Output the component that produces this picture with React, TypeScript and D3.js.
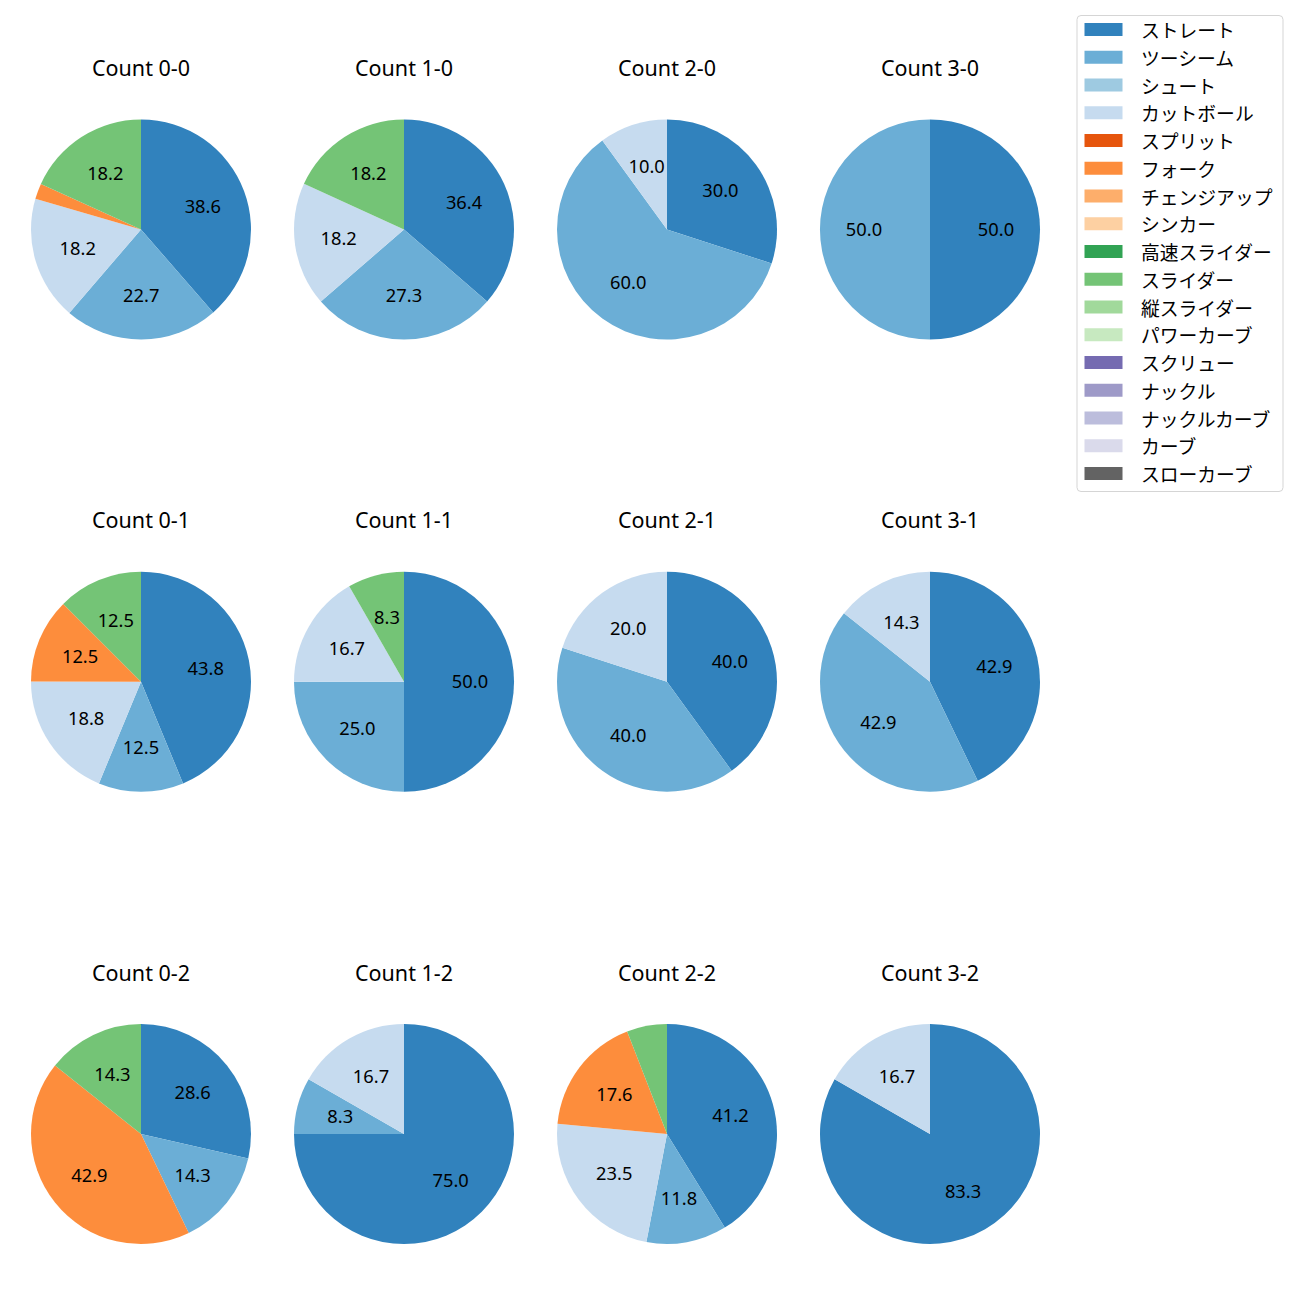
import React from "react";
import * as d3 from "d3";

const pitchTypes = [
  "ストレート", "ツーシーム", "シュート", "カットボール", "スプリット", "フォーク",
  "チェンジアップ", "シンカー", "高速スライダー", "スライダー", "縦スライダー",
  "パワーカーブ", "スクリュー", "ナックル", "ナックルカーブ", "カーブ", "スローカーブ",
];
const pitchColors = [
  "#3182bd", "#6baed6", "#9ecae1", "#c6dbef", "#e6550d", "#fd8d3c",
  "#fdae6b", "#fdd0a2", "#31a354", "#74c476", "#a1d99b",
  "#c7e9c0", "#756bb1", "#9e9ac8", "#bcbddc", "#dadaeb", "#636363",
];

type Slice = [string, number];
const count00: Slice[] = [["ストレート", 38.6], ["ツーシーム", 22.7], ["カットボール", 18.2], ["フォーク", 2.3], ["スライダー", 18.2]];
const count10: Slice[] = [["ストレート", 36.4], ["ツーシーム", 27.3], ["カットボール", 18.2], ["スライダー", 18.2]];
const count20: Slice[] = [["ストレート", 30.0], ["ツーシーム", 60.0], ["カットボール", 10.0]];
const count30: Slice[] = [["ストレート", 50.0], ["ツーシーム", 50.0]];
const count01: Slice[] = [["ストレート", 43.8], ["ツーシーム", 12.5], ["カットボール", 18.8], ["フォーク", 12.5], ["スライダー", 12.5]];
const count11: Slice[] = [["ストレート", 50.0], ["ツーシーム", 25.0], ["カットボール", 16.7], ["スライダー", 8.3]];
const count21: Slice[] = [["ストレート", 40.0], ["ツーシーム", 40.0], ["カットボール", 20.0]];
const count31: Slice[] = [["ストレート", 42.9], ["ツーシーム", 42.9], ["カットボール", 14.3]];
const count02: Slice[] = [["ストレート", 28.6], ["ツーシーム", 14.3], ["フォーク", 42.9], ["スライダー", 14.3]];
const count12: Slice[] = [["ストレート", 75.0], ["ツーシーム", 8.3], ["カットボール", 16.7]];
const count22: Slice[] = [["ストレート", 41.2], ["ツーシーム", 11.8], ["カットボール", 23.5], ["フォーク", 17.6], ["スライダー", 5.9]];
const count32: Slice[] = [["ストレート", 83.3], ["カットボール", 16.7]];

const countTitles = [
  "Count 0-0", "Count 1-0", "Count 2-0", "Count 3-0",
  "Count 0-1", "Count 1-1", "Count 2-1", "Count 3-1",
  "Count 0-2", "Count 1-2", "Count 2-2", "Count 3-2",
];
const countData = [
  count00, count10, count20, count30,
  count01, count11, count21, count31,
  count02, count12, count22, count32,
];

const LATIN_FONT = "'Noto Sans', 'Noto Sans CJK JP', sans-serif";
const CJK_FONT = "'Noto Sans CJK JP', 'Noto Sans', sans-serif";

export default function App() {
  const r = 110;
  const colX = d3.scaleLinear().domain([0, 3]).range([141, 930]);
  const rowY = d3.scaleLinear().domain([0, 2]).range([229.5, 1134]);
  const color = d3.scaleOrdinal<string, string>().domain(pitchTypes).range(pitchColors);
  const pie = d3.pie<Slice>().sort(null).value((d) => d[1]);
  const arc = d3.arc<d3.PieArcDatum<Slice>>().innerRadius(0).outerRadius(r);
  const labelArc = d3.arc<d3.PieArcDatum<Slice>>().innerRadius(0.6 * r).outerRadius(0.6 * r);
  const legendY = d3.scaleLinear().domain([0, 16]).range([29.5, 473.5]);

  return (
    <svg width={1300} height={1300} style={{ position: "absolute", left: 0, top: 0, background: "#fff" }}>
      {countData.map((data, i) => {
        const cx = colX(i % 4);
        const cy = rowY(Math.floor(i / 4));
        const arcs = pie(data);
        return (
          <g key={i} transform={`translate(${cx},${cy})`}>
            <text x={0} y={-153.5} textAnchor="middle" fontFamily={LATIN_FONT} fontSize={21.5} fill="#000">
              {countTitles[i]}
            </text>
            {arcs.map((a, j) => (
              <path key={j} d={arc(a) || ""} fill={color(a.data[0])} />
            ))}
            {arcs.map((a, j) => {
              if (a.data[1] < 7) return null;
              const [lx, ly] = labelArc.centroid(a);
              return (
                <text key={"l" + j} x={lx} y={ly} dy="0.35em" textAnchor="middle" fontFamily={LATIN_FONT} fontSize={18.3} fill="#000">
                  {a.data[1].toFixed(1)}
                </text>
              );
            })}
          </g>
        );
      })}
      <rect x={1077} y={15.5} width={206} height={476} rx={4} fill="#fff" stroke="#d5d5d5" strokeWidth={1} />
      {pitchTypes.map((p, i) => (
        <g key={p}>
          <rect x={1084.5} y={legendY(i) - 6.5} width={38} height={13} fill={color(p)} />
          <text x={1141} y={legendY(i)} dominantBaseline="central" fontFamily={CJK_FONT} fontSize={18.8} fill="#000">
            {p}
          </text>
        </g>
      ))}
    </svg>
  );
}
